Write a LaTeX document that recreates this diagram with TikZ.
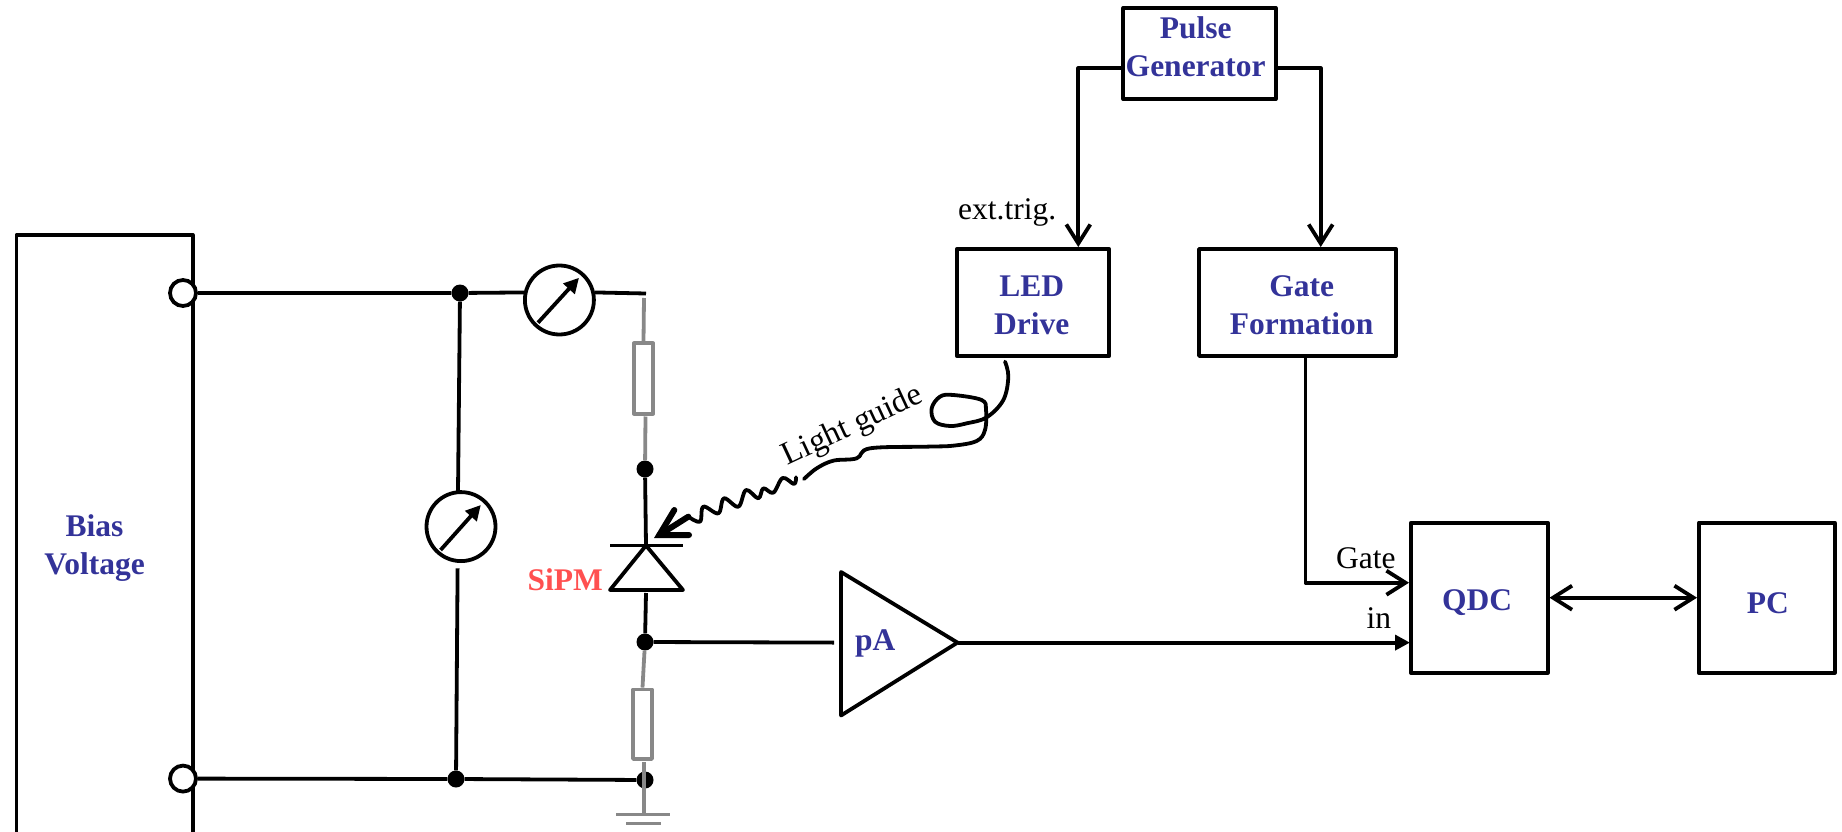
\documentclass[tikz,border=0pt]{standalone}
\usepackage{fontspec}
\setmainfont{Liberation Serif}
\usetikzlibrary{arrows.meta,calc}
\definecolor{bluetxt}{HTML}{333399}
\definecolor{redtxt}{HTML}{FF5050}
\definecolor{wiregray}{HTML}{888888}
\tikzset{
  wire/.style={draw=black,line width=3.8pt,line join=round},
  gwire/.style={draw=wiregray,line width=3.8pt,line join=round},
  openarrow/.style={-{Straight Barb[length=19pt,width=24pt,line width=3.8pt]}},
  openboth/.style={{Straight Barb[length=19pt,width=24pt,line width=3.8pt]}-{Straight Barb[length=19pt,width=24pt,line width=3.8pt]}},
  solidarrow/.style={-{Triangle[length=15pt,width=15pt]}},
  needle/.style={-{Triangle[length=15pt,width=15pt]}},
  box/.style={draw=black,line width=3.8pt,rectangle,line join=round,inner sep=0pt,fill=none},
  title/.style={font=\fontsize{31.5}{38}\selectfont\bfseries,text=bluetxt,align=center,inner sep=0pt},
  note/.style={font=\fontsize{31.5}{38}\selectfont,text=black,inner sep=0pt},
  dot/.style={circle,fill=black,draw=none,minimum size=17pt,inner sep=0pt},
  port/.style={circle,draw=black,fill=white,line width=3.8pt,minimum size=26pt,inner sep=0pt},
  meter/.style={circle,draw=black,fill=white,line width=3.8pt,minimum size=69pt,inner sep=0pt},
  resistor/.style={rectangle,draw=wiregray,line width=3.8pt,inner sep=0pt,line join=round},
}
\begin{document}
\begin{tikzpicture}[x=1pt,y=-1pt]
\useasboundingbox (0,0) rectangle (1842,832);
% Bias box (runs off the bottom of the picture)
\coordinate (bbl) at (16.4,834);
\coordinate (bbr) at (192.6,834);
\coordinate (btl) at (16.4,235);
\coordinate (btr) at (192.6,235);
\draw[wire] (bbl) -- (btl) -- (btr) -- (bbr);
\node[title] (bias) at (94.6,548.5) {Bias\\Voltage};
% Block nodes
\node[box,minimum width=152.4pt,minimum height=91pt] (pulse) at (1199.5,53.5) {};
\node[title] (pulsetxt) at (1195.7,47) {Pulse\\Generator};
\node[box,minimum width=152.6pt,minimum height=107pt] (led) at (1033,302.5) {};
\node[title] (ledtxt) at (1031.7,305) {LED\\Drive};
\node[box,minimum width=197pt,minimum height=107pt] (gate) at (1297.5,302.5) {};
\node[title] (gatetxt) at (1301.7,305) {Gate\\Formation};
\node[box,minimum width=136.7pt,minimum height=150.3pt] (qdc) at (1479.3,597.8) {};
\node[title] (qdctxt) at (1477,603) {QDC};
\node[box,minimum width=135.8pt,minimum height=150.3pt] (pc) at (1766.7,597.8) {};
\node[title] (pctxt) at (1767.8,603) {PC};
% Pulse generator outputs
\coordinate (pl) at (1123.3,68.3);
\coordinate (pr) at (1275.7,68.3);
\coordinate (ll) at (1078.3,247);
\coordinate (gl) at (1320.7,247);
\draw[wire,openarrow] (pl) -| (ll);
\draw[wire,openarrow] (pr) -| (gl);
\node[note,anchor=base west] (exttrig) at (958,219) {ext.trig.};
% Gate formation to QDC
\coordinate (gb) at (1305.5,356);
\coordinate (qg) at (1409,582.7);
\draw[wire,openarrow] (gb) |- (qg);
\node[note,anchor=base] (gatelbl) at (1365.8,568) {Gate};
% QDC <-> PC
\coordinate (qr) at (1549.5,597.7);
\coordinate (pcl) at (1697,597.7);
\draw[wire,openboth] (qr) -- (pcl);
% Bias ports and junctions
\node[dot] (d1) at (460,293) {};
\node[dot] (d2) at (456,779) {};
\node[dot] (d3) at (645,469) {};
\node[dot] (d4) at (645,642) {};
\node[dot] (d5) at (645,780) {};
\node[meter] (m1) at (559.4,300) {};
\node[meter] (m2) at (461,526.6) {};
\node[port] (p1) at (183,293) {};
\node[port] (p2) at (183,778.6) {};
\coordinate (m1end) at (646,293.5);
\coordinate (m2t) at (458,491.5);
\coordinate (m2b) at (457.6,568.4);
\draw[wire] (p1.east) -- (d1) -- (m1.168);
\draw[wire] (m1.12) -- (m1end);
\draw[wire] (p2.east) -- (d2) -- (d5);
\draw[wire] (d1) -- (m2t);
\draw[wire] (m2b) -- (d2);
% meter needles
\coordinate (n1a) at (538,322.7);
\coordinate (n1b) at (579,277.8);
\coordinate (n2a) at (440.6,550);
\coordinate (n2b) at (480.8,505);
\draw[wire,needle] (n1a) -- (n1b);
\draw[wire,needle] (n2a) -- (n2b);
% Resistors and grey leads
\node[resistor,minimum width=19pt,minimum height=70.3pt] (r1) at (643.5,378.5) {};
\node[resistor,minimum width=19pt,minimum height=69.5pt] (r2) at (642.5,724.2) {};
\coordinate (r1top) at (644,298);
\coordinate (r1low) at (645.5,416.5);
\coordinate (r2low) at (644,762);
\coordinate (gnd) at (644,814.5);
\coordinate (g1l) at (616,814.5);
\coordinate (g1r) at (670,814.5);
\coordinate (g2l) at (626,823.5);
\coordinate (g2r) at (661,823.5);
\draw[gwire] (r1top) -- (r1.north);
\draw[gwire] (r1low) -- (d3);
\draw[gwire] (d4) -- (r2.north);
\draw[gwire] (r2low) -- (gnd);
\draw[gwire] (g1l) -- (g1r);
\draw[gwire] (g2l) -- (g2r);
% SiPM diode
\coordinate (dapex) at (646,545.5);
\coordinate (dbl) at (610,590);
\coordinate (dbr) at (683,590);
\coordinate (dbarl) at (610,545.5);
\coordinate (dbarr) at (683,545.5);
\coordinate (dbase) at (646,593);
\draw[wire] (d3) -- (dapex);
\draw[wire] (dbarl) -- (dbarr);
\draw[wire] (dapex) -- (dbl) -- (dbr) -- cycle;
\draw[wire] (dbase) -- (d4);
\node[title,text=redtxt,anchor=base east] (sipm) at (603,590.3) {SiPM};
% Amplifier
\coordinate (a1) at (841,572);
\coordinate (a2) at (841,715.5);
\coordinate (a3) at (957.5,642.6);
\coordinate (ain) at (834,642.6);
\coordinate (qi) at (1410,642.6);
\draw[wire] (a1) -- (a2) -- (a3) -- cycle;
\draw[wire] (d4) -- (ain);
\draw[wire,solidarrow] (a3) -- (qi);
\node[title,anchor=base] (pa) at (875.3,650) {pA};
\node[note,anchor=base] (inlbl) at (1378.8,628) {in};
% Light guide
\node[note,font=\fontsize{32.5}{38}\selectfont,rotate=25,anchor=center] (lg) at (853,426.5) {Light guide};
\begin{scope}[shift={(620,340)},x=0.33333pt,y=-0.33333pt]
\draw[black,line width=3.8pt,line cap=round,line join=round,smooth,tension=0.6]
 plot coordinates {(1155,65)(1165,110)(1150,180)(1100,232)(1040,250)(990,258)(945,245)(935,205)(960,170)(1000,165)(1085,180)(1098,210)(1095,270)(1070,303)(1000,317)(920,320)(750,325)(710,355)(640,362)(590,385)(552,417)};
\draw[black,line width=3.8pt,line cap=round,line join=round,smooth,tension=0.6]
 plot coordinates {(528,412)(522,432)(488,414)(460,458)(430,445)(415,475)(378,450)(355,500)(312,475)(295,520)(250,500)(240,545)(205,530)};
\draw[black,line width=6pt,line cap=round,line join=miter]
 (205,530) -- (118,585);
\draw[black,line width=6pt,line cap=round,line join=miter]
 (163,510) -- (118,585) -- (207,585);
\end{scope}
\end{tikzpicture}
\end{document}
